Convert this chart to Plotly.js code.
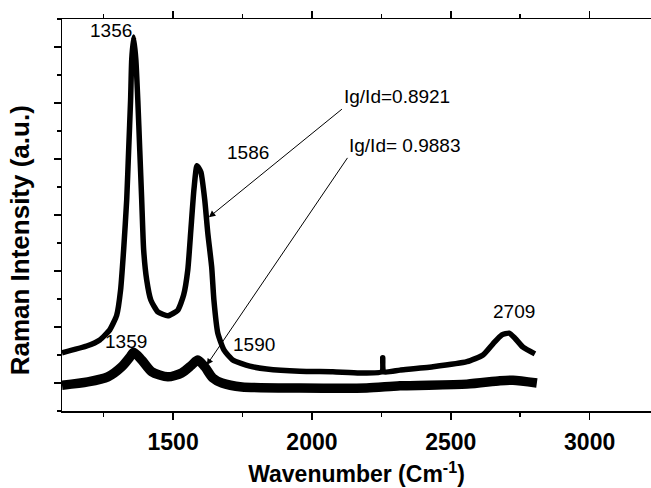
<!DOCTYPE html>
<html>
<head>
<meta charset="utf-8">
<script src="https://cdn.plot.ly/plotly-3.0.1.min.js"></script>
<style>html,body{margin:0;padding:0;background:#fff;}#chart{width:651px;height:488px;}</style>
</head>
<body>
<div id="chart"></div>
<script>
// Upper spectrum (Ig/Id = 0.8921)
const wavenumberA = [1100,1189,1236,1272,1297,1311,1322,1333,1340,1347,1351,1358,1366,1373,1380,1387,1394,1405,1420,1445,1481,1517,1538,1553,1564,1575,1586,1600,1614,1625,1639,1647,1661,1683,1715,1776,1837,1956,2075,2172,2252,2255,2258,2317,2436,2558,2616,2652,2684,2710,2731,2760,2803];
const intensityA = [0.54,0.66,0.77,0.95,1.21,1.66,2.38,3.27,4.16,5.05,5.77,6.18,5.77,5.05,4.16,3.27,2.38,1.84,1.48,1.27,1.20,1.30,1.57,2.02,2.73,3.45,3.88,3.77,3.27,2.68,2.07,1.48,0.89,0.59,0.41,0.30,0.25,0.21,0.20,0.18,0.20,0.45,0.20,0.23,0.29,0.38,0.50,0.70,0.86,0.89,0.80,0.64,0.52];

// Lower spectrum (Ig/Id = 0.9883)
const wavenumberB = [1100,1193,1265,1315,1344,1358,1387,1423,1481,1531,1567,1589,1614,1643,1676,1748,1956,2197,2317,2558,2677,2724,2810];
const intensityB = [-0.04,0.02,0.11,0.29,0.46,0.55,0.41,0.20,0.11,0.18,0.32,0.41,0.29,0.09,0.00,-0.07,-0.09,-0.09,-0.05,-0.02,0.04,0.05,0.00];

// Peak labels
const peakText = ['1356','1586','1359','1590','2709'];
const peakX = [1275,1769,1330,1791,2728];
const peakY = [6.29,4.11,0.75,0.68,1.27];

// Ratio labels
const ratioText = ['Ig/Id=0.8921','Ig/Id= 0.9883'];

const FONT = 'Liberation Sans, Arial, sans-serif';

const traces = [
  {x: wavenumberA, y: intensityA, type: 'scatter', mode: 'lines',
   line: {color: '#000', width: 5.5, shape: 'spline', smoothing: 0.5}, hoverinfo: 'skip'},
  {x: wavenumberB, y: intensityB, type: 'scatter', mode: 'lines',
   line: {color: '#000', width: 9.5, shape: 'spline', smoothing: 0.7}, hoverinfo: 'skip'}
];

const annotations = [];
peakText.forEach((t, i) => annotations.push({
  x: peakX[i], y: peakY[i], xref: 'x', yref: 'y', text: t, showarrow: false,
  font: {family: FONT, size: 19, color: '#000'}, xanchor: 'center', yanchor: 'middle'
}));
// ratio labels with arrows pointing to the G bands
annotations.push({x: 1629, y: 2.96, ax: 2108, ay: 4.89, xref: 'x', yref: 'y', axref: 'x', ayref: 'y',
  text: ratioText[0], xanchor: 'left', yanchor: 'bottom',
  font: {family: FONT, size: 19, color: '#000'},
  showarrow: true, arrowhead: 2, arrowsize: 1.3, arrowwidth: 1, arrowcolor: '#000', standoff: 0});
annotations.push({x: 1621, y: 0.32, ax: 2128, ay: 4.02, xref: 'x', yref: 'y', axref: 'x', ayref: 'y',
  text: ratioText[1], xanchor: 'left', yanchor: 'bottom',
  font: {family: FONT, size: 19, color: '#000'},
  showarrow: true, arrowhead: 2, arrowsize: 1.3, arrowwidth: 1, arrowcolor: '#000', standoff: 0});

const layout = {
  width: 651, height: 488,
  margin: {l: 62, r: 0, t: 19, b: 77},
  paper_bgcolor: '#fff', plot_bgcolor: '#fff',
  showlegend: false,
  font: {family: FONT, color: '#000'},
  xaxis: {
    range: [1100, 3221], tickvals: [1500, 2000, 2500, 3000],
    ticks: 'outside', ticklen: 7, tickwidth: 1.5, tickcolor: '#000',
    minor: {tickvals: [1250, 1750, 2250, 2750], ticks: 'outside', ticklen: 4, tickwidth: 1.5, tickcolor: '#000'},
    showline: true, linecolor: '#000', linewidth: 1.5, mirror: 'ticks',
    showgrid: false, zeroline: false,
    tickfont: {family: FONT, size: 23, color: '#000', weight: 'bold'},
    ticklabelstandoff: 3,
    title: {text: '<b>Wavenumber (Cm<sup>-1</sup>)</b>', font: {family: FONT, size: 23, color: '#000'}, standoff: 12}
  },
  yaxis: {
    range: [-0.5, 6.5], dtick: 1, tick0: 0,
    ticks: 'outside', ticklen: 7, tickwidth: 1.5, tickcolor: '#000',
    minor: {dtick: 0.5, ticks: 'outside', ticklen: 4, tickwidth: 1.5, tickcolor: '#000'},
    showticklabels: false,
    showline: true, linecolor: '#000', linewidth: 1.5, mirror: false,
    showgrid: false, zeroline: false,
    title: {text: '<b>Raman Intensity (a.u.)</b>&nbsp;&nbsp;&nbsp;&nbsp;&nbsp;&nbsp;&nbsp;',
            font: {family: FONT, size: 26, color: '#000'}, standoff: 16}
  },
  annotations: annotations
};

Plotly.newPlot('chart', traces, layout, {staticPlot: true, displayModeBar: false});
</script>
</body>
</html>
